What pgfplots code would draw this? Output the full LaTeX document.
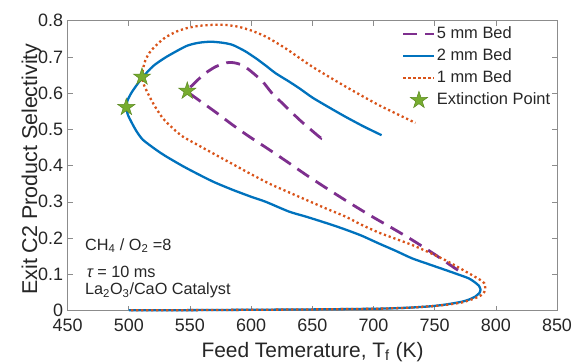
\documentclass[border=0pt]{standalone}
\usepackage{pgfplots}
\pgfplotsset{compat=1.18}
\usepackage{fontspec}
\setmainfont{Liberation Sans}
\definecolor{mblue}{HTML}{0072BD}
\definecolor{morange}{HTML}{D95319}
\definecolor{mpurple}{HTML}{7E2F8E}
\definecolor{mgreen}{HTML}{77AC30}
\definecolor{mgreendark}{HTML}{5C8A22}
\pgfdeclareplotmark{fstar}{%
  \pgfpathmoveto{\pgfpointpolar{90}{\pgfplotmarksize}}%
  \pgfpathlineto{\pgfpointpolar{126}{0.382\pgfplotmarksize}}%
  \pgfpathlineto{\pgfpointpolar{162}{\pgfplotmarksize}}%
  \pgfpathlineto{\pgfpointpolar{198}{0.382\pgfplotmarksize}}%
  \pgfpathlineto{\pgfpointpolar{234}{\pgfplotmarksize}}%
  \pgfpathlineto{\pgfpointpolar{270}{0.382\pgfplotmarksize}}%
  \pgfpathlineto{\pgfpointpolar{306}{\pgfplotmarksize}}%
  \pgfpathlineto{\pgfpointpolar{342}{0.382\pgfplotmarksize}}%
  \pgfpathlineto{\pgfpointpolar{18}{\pgfplotmarksize}}%
  \pgfpathlineto{\pgfpointpolar{54}{0.382\pgfplotmarksize}}%
  \pgfpathclose
  \pgfusepathqfillstroke
}
\pgfplotsset{
  linelegend/.style={legend image code/.code={\draw[##1] (0bp,0bp) -- (31bp,0bp);}},
  marklegend/.style={legend image code/.code={\draw[mark repeat=2,mark phase=2,##1] plot coordinates {(0bp,0bp) (15.5bp,0bp) (31bp,0bp)};}},
}
\begin{document}
\begin{tikzpicture}
\begin{axis}[
  name=ax,
  scale only axis,
  width=489.4bp, height=289.8bp,
  xmin=450, xmax=850, ymin=0, ymax=0.8,
  xtick={450,500,...,850},
  ytick={0,0.1,...,0.8},
  /pgf/number format/assume math mode=true,
  yticklabel style={/pgf/number format/fixed,/pgf/number format/precision=1},
  tick label style={font=\fontsize{18}{21}\selectfont, text=black!85},
  xticklabel style={yshift=-5bp},
  yticklabel style={xshift=-1bp},
  tick align=inside,
  major tick length=5bp,
  tick style={black!45, line width=0.6bp},
  axis line style={black!45, line width=0.8bp},
  clip=false,
  xlabel={Feed Temerature, T\textsubscript{f} (K)},
  ylabel={Exit C2 Product Selectivity},
  label style={text=black!85},
  xlabel style={font=\fontsize{21}{24}\selectfont, at={(axis description cs:0.5004,0)}, anchor=base, yshift=-47bp},
  ylabel style={font=\fontsize{21.5}{24}\selectfont, at={(axis description cs:-0.0625,0.488)}, anchor=base},
  legend style={draw=none, fill=none, at={(axis description cs:0.683,0.985)}, anchor=north west,
    font=\fontsize{16.5}{19}\selectfont, text=black!85, inner sep=0pt, row sep=4.5bp,
    nodes={inner sep=1bp, text height=12bp, text depth=3.5bp}},
  legend cell align=left,
]
\addplot[mpurple, line width=2.8bp, dash pattern=on 14bp off 8bp, smooth, tension=0.4, linelegend]
coordinates {
(657,0.477) (655.5,0.480) (640,0.525) (624.3,0.576) (617,0.600) (609.4,0.632)
(600,0.660) (593,0.677) (586,0.684) (580,0.684) (571,0.673) (563,0.656)
(557.8,0.641) (552,0.622) (547.8,0.606)
(555.1,0.586) (570,0.550) (585,0.512) (598.5,0.480) (613,0.448) (628.4,0.413)
(646,0.372) (663.7,0.333) (681,0.296) (699,0.259) (715,0.228) (731.5,0.195)
(750,0.155) (766.9,0.116) (770,0.110)
};
\addlegendentry{5 mm Bed}
\addplot[mblue, line width=2.3bp, smooth, tension=0.4, linelegend]
coordinates {
(500,0.0005) (550,0.001) (600,0.002) (650,0.003) (704,0.005) (730,0.008)
(748,0.012) (760,0.017) (772,0.024) (778,0.030) (783,0.038) (786.5,0.048)
(787.5,0.058) (786,0.069) (782,0.080) (777.7,0.089) (768,0.101) (758.7,0.112)
(745,0.128) (731.5,0.144) (718,0.165) (704.4,0.185) (690,0.207) (675,0.226)
(660,0.243) (645,0.259) (631,0.273) (612,0.300) (600,0.314) (585,0.333)
(570,0.354) (558,0.374) (545,0.397) (530.7,0.425) (522.6,0.443) (511.6,0.471)
(506.3,0.495) (502.5,0.518) (499.3,0.540) (498,0.561) (499,0.580) (502,0.600)
(506,0.620) (511.6,0.645) (520,0.675) (530.7,0.700) (547,0.730) (557,0.739)
(567,0.742) (577,0.739) (585,0.733) (595,0.716) (604,0.696) (612,0.676)
(620,0.655) (631,0.632) (640,0.612) (650,0.588) (663,0.562) (677,0.535)
(692,0.508) (706.6,0.484)
};
\addlegendentry{2 mm Bed}
\addplot[morange, line width=2.3bp, dash pattern=on 2.2bp off 2.8bp, smooth, tension=0.4, linelegend]
coordinates {
(502,0.0005) (550,0.001) (600,0.002) (650,0.003) (704,0.005) (730,0.008)
(748,0.012) (760,0.016) (772,0.022) (779,0.029) (785.8,0.038) (789.5,0.046)
(791.3,0.057) (790.7,0.075) (787,0.085) (780.4,0.098) (770,0.118) (758.7,0.139)
(745,0.161) (731.5,0.181) (718,0.198) (704.4,0.215) (690,0.237) (677.3,0.259)
(663,0.279) (650,0.298) (631,0.326) (615,0.350) (598.5,0.379) (585,0.404)
(571.4,0.429) (558,0.454) (544.2,0.480) (536,0.503) (528,0.530) (522,0.560)
(517,0.590) (512.5,0.622) (510.8,0.645) (511.5,0.665) (513.5,0.690) (517,0.712)
(522.6,0.733) (530,0.754) (539,0.770) (548,0.780) (558,0.786) (571,0.789)
(580,0.788) (590,0.783) (600,0.773) (612,0.756) (628,0.724) (650,0.673)
(677.3,0.618) (704.4,0.567) (734.3,0.518)
};
\addlegendentry{1 mm Bed}
\addplot[only marks, mark=fstar, mark size=9bp,
  mark options={fill=mgreen, draw=mgreendark, line width=0.5bp}, marklegend]
coordinates {(498,0.561) (510.8,0.645) (547.8,0.606)};
\addlegendentry{Extinction Point}
\node[anchor=base west, font=\fontsize{16.3}{19}\selectfont, text=black!85, inner sep=0pt]
  at (axis cs:464.2,0.167) {CH\textsubscript{4} / O\textsubscript{2} =8};
\node[anchor=base west, font=\fontsize{16.3}{19}\selectfont, text=black!85, inner sep=0pt]
  at (axis cs:465.5,0.0917) {{\itshape τ} = 10 ms};
\node[anchor=base west, font=\fontsize{16.3}{19}\selectfont, text=black!85, inner sep=0pt]
  at (axis cs:464.2,0.0428) {La\textsubscript{2}O\textsubscript{3}/CaO Catalyst};
\end{axis}
\pgfresetboundingbox
\path[use as bounding box] (ax.south west) ++(-67.6bp,-53.5bp) rectangle ++(574bp,364bp);
\end{tikzpicture}
\end{document}
